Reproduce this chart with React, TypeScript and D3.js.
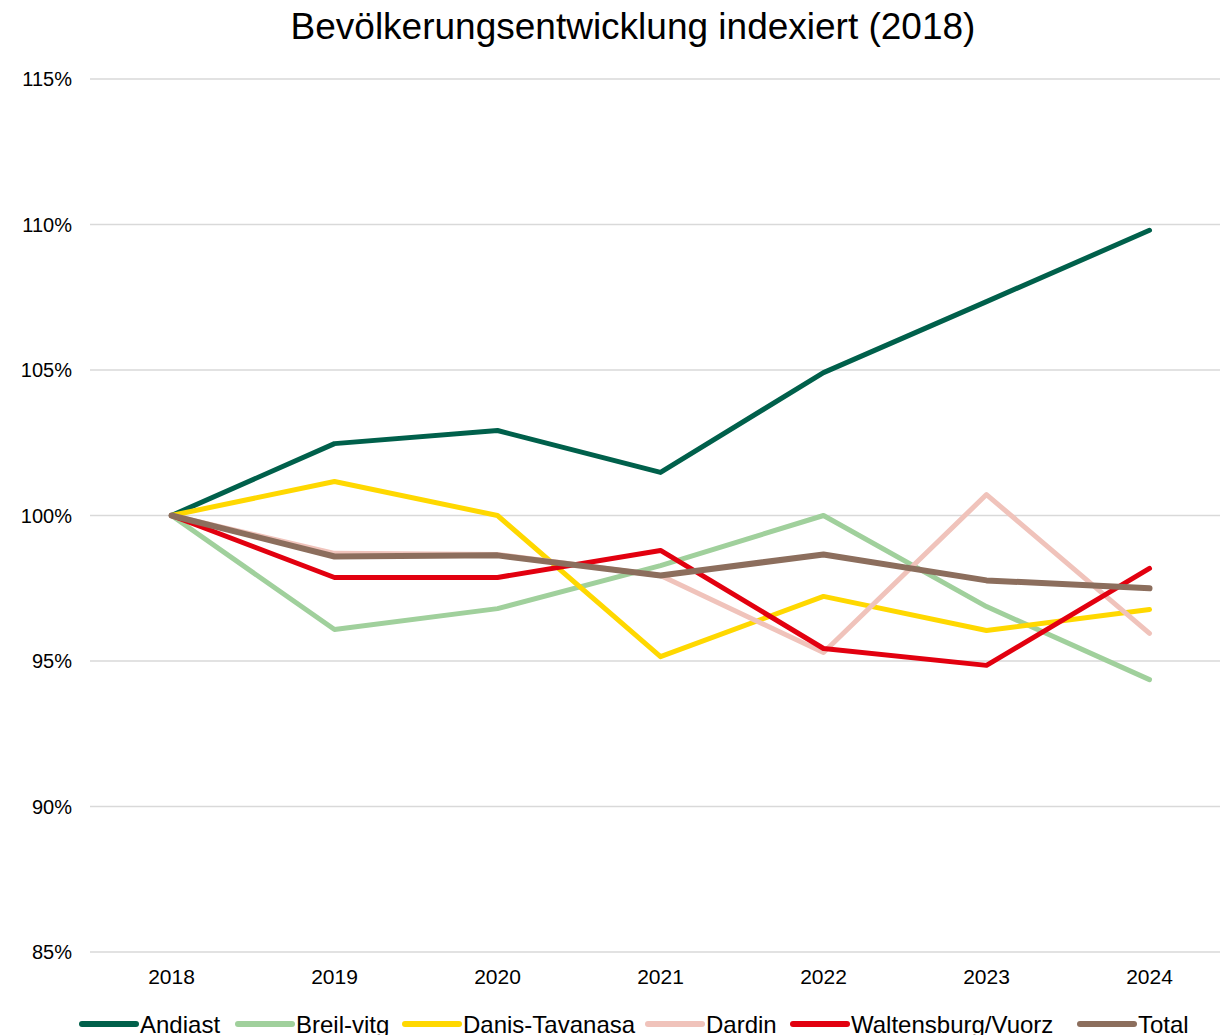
import * as d3 from 'd3';

const years = ['2018', '2019', '2020', '2021', '2022', '2023', '2024'];
const yTicks = [85, 90, 95, 100, 105, 110, 115];

const andiast = [100, 102.47, 102.92, 101.48, 104.91, 107.35, 109.8];
const breilVitg = [100, 96.08, 96.8, 98.28, 100, 96.87, 94.36];
const danisTavanasa = [100, 101.17, 100, 95.15, 97.22, 96.05, 96.77];
const dardin = [100, 98.7, 98.66, 97.94, 95.29, 100.72, 95.95];
const waltensburg = [100, 97.87, 97.87, 98.8, 95.43, 94.85, 98.18];
const total = [100, 98.59, 98.63, 97.94, 98.66, 97.77, 97.5];

const seriesNames = ['Andiast', 'Breil-vitg', 'Danis-Tavanasa', 'Dardin', 'Waltensburg/Vuorz', 'Total'];
const seriesValues = [andiast, breilVitg, danisTavanasa, dardin, waltensburg, total];
const seriesColors = ['#00604b', '#a0d09c', '#ffd800', '#f0c3bb', '#e2000f', '#8c6e5d'];

const W = 1220;
const H = 1035;
const FONT = '"Liberation Sans", Arial, sans-serif';

export default function App() {
  const x = d3.scaleBand<string>().domain(years).range([90, 1231]);
  const y = d3.scaleLinear().domain([85, 115]).range([952, 79]);

  const line = d3
    .line<number>()
    .x((_, i) => (x(years[i]) as number) + x.bandwidth() / 2)
    .y((d) => y(d));

  // legend: start of each item's swatch
  const legendX = [82, 238, 405, 648, 793, 1080];

  return (
    <svg
      width={W}
      height={H}
      style={{ position: 'absolute', left: 0, top: 0, background: '#fff' }}
      fontFamily={FONT}
    >
      <text x={633} y={39} textAnchor="middle" fontSize={37} fill="#000">
        Bevölkerungsentwicklung indexiert (2018)
      </text>

      {/* gridlines + y labels */}
      {yTicks.map((t) => (
        <g key={t}>
          <line x1={90} x2={W} y1={y(t)} y2={y(t)} stroke="#d9d9d9" strokeWidth={1.5} />
          <text x={72} y={y(t) + 7} textAnchor="end" fontSize={20} fill="#000">
            {t}%
          </text>
        </g>
      ))}

      {/* x labels */}
      {years.map((yr) => (
        <text
          key={yr}
          x={(x(yr) as number) + x.bandwidth() / 2}
          y={984}
          textAnchor="middle"
          fontSize={21}
          fill="#000"
        >
          {yr}
        </text>
      ))}

      {/* series */}
      {seriesValues.map((vals, i) => (
        <path
          key={seriesNames[i]}
          d={line(vals) || ''}
          fill="none"
          stroke={seriesColors[i]}
          strokeWidth={i === 5 ? 6 : 5}
          strokeLinejoin="round"
          strokeLinecap="round"
        />
      ))}

      {/* legend (cut off at the bottom edge, as in the source) */}
      {seriesNames.map((name, i) => (
        <g key={name} transform={`translate(${legendX[i]},1024)`}>
          <line x1={0} x2={54} y1={0} y2={0} stroke={seriesColors[i]} strokeWidth={6} strokeLinecap="round" />
          <text x={58} y={9} fontSize={24} fill="#000">
            {name}
          </text>
        </g>
      ))}
    </svg>
  );
}
